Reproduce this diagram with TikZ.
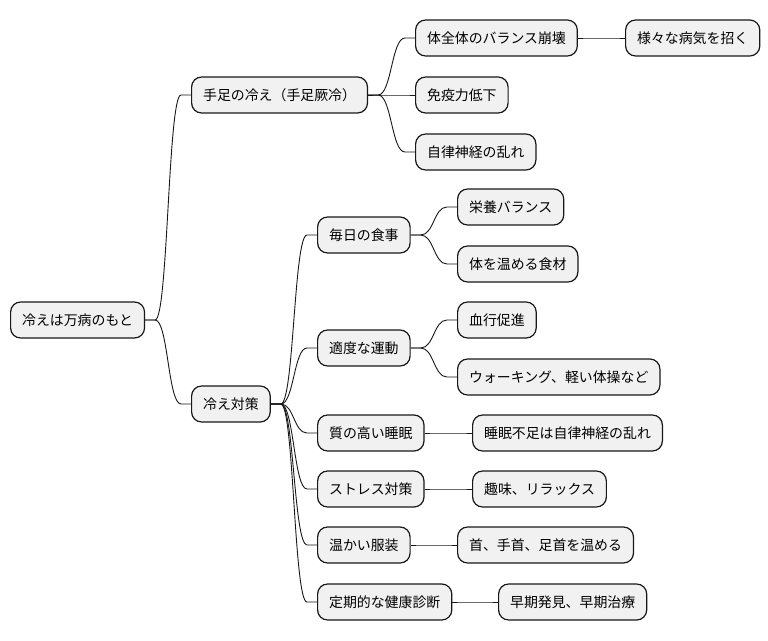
\documentclass[tikz,border=0pt]{standalone}
\usepackage{fontspec}
\newfontfamily\cjk{Noto Sans CJK JP}
\usetikzlibrary{calc}
\definecolor{boxfill}{HTML}{F1F1F1}
\definecolor{boxline}{HTML}{181818}
\tikzset{
  mm/.style={draw=boxline, fill=boxfill, line width=1.2pt, rounded corners=10pt,
    minimum height=36pt, inner xsep=11.5pt, inner ysep=0pt, anchor=west,
    font=\cjk\fontsize{13.9}{16}\selectfont, text=black},
  edge/.style={draw=boxline, line width=0.9pt}
}
\newcommand\mmedge[2]{%
  \path ($(#1.east)+(10,0)$) coordinate (s) ($(#2.west)+(-10,0)$) coordinate (e)
    ($(s)!0.5!(e)$) coordinate (m);
  \draw[edge] (#1.east) -- (s) .. controls (m |- s) and (m |- e) .. (e) -- (#2.west);}
\begin{document}
\begin{tikzpicture}[x=1pt,y=-1pt]
\useasboundingbox (0,0) rectangle (768,640);
\node[mm] (root) at (10,320) {冷えは万病のもと};
\node[mm] (a) at (191,95) {手足の冷え（手足厥冷）};
\node[mm] (a1) at (415,38) {体全体のバランス崩壊};
\node[mm] (a1a) at (625,38) {様々な病気を招く};
\node[mm] (a2) at (415,95) {免疫力低下};
\node[mm] (a3) at (415,152) {自律神経の乱れ};
\node[mm] (b) at (191,404) {冷え対策};
\node[mm] (b1) at (317,235) {毎日の食事};
\node[mm] (b1a) at (457,207) {栄養バランス};
\node[mm] (b1b) at (457,264) {体を温める食材};
\node[mm] (b2) at (317,348) {適度な運動};
\node[mm] (b2a) at (457,320) {血行促進};
\node[mm] (b2b) at (457,377) {ウォーキング、軽い体操など};
\node[mm] (b3) at (317,433) {質の高い睡眠};
\node[mm] (b3a) at (472,433) {睡眠不足は自律神経の乱れ};
\node[mm] (b4) at (317,489) {ストレス対策};
\node[mm] (b4a) at (472,489) {趣味、リラックス};
\node[mm] (b5) at (317,545) {温かい服装};
\node[mm] (b5a) at (457,545) {首、手首、足首を温める};
\node[mm] (b6) at (317,602) {定期的な健康診断};
\node[mm] (b6a) at (498,602) {早期発見、早期治療};
\mmedge{root}{a}
\mmedge{root}{b}
\mmedge{a}{a1}
\mmedge{a1}{a1a}
\mmedge{a}{a2}
\mmedge{a}{a3}
\mmedge{b}{b1}
\mmedge{b1}{b1a}
\mmedge{b1}{b1b}
\mmedge{b}{b2}
\mmedge{b2}{b2a}
\mmedge{b2}{b2b}
\mmedge{b}{b3}
\mmedge{b3}{b3a}
\mmedge{b}{b4}
\mmedge{b4}{b4a}
\mmedge{b}{b5}
\mmedge{b5}{b5a}
\mmedge{b}{b6}
\mmedge{b6}{b6a}
\end{tikzpicture}
\end{document}
